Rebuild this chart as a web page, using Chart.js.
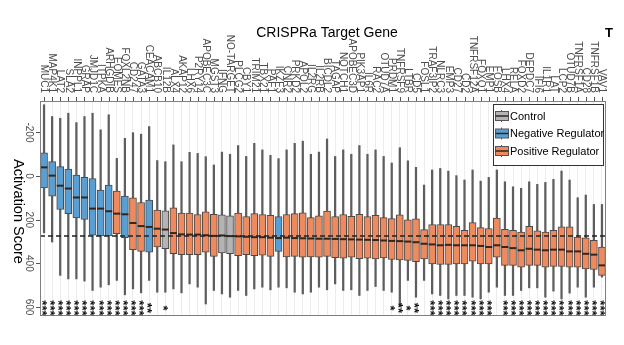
<!DOCTYPE html>
<html>
<head>
<meta charset="utf-8">
<script src="https://cdn.jsdelivr.net/npm/chart.js"></script>
<style>
  html, body { margin: 0; padding: 0; background: #fff; }
  #wrap { width: 624px; height: 345px; position: relative; }
</style>
</head>
<body>
<div id="wrap"><canvas id="chart"></canvas></div>
<script>
// CRISPRa target genes, left to right
const genes = [
  "MUC1", "MAP4K1", "LAT2", "SLA2", "INPPL1", "GRAP", "JMJD1C", "ITPKA", "ARHGDIB", "EOMES",
  "FOXL2NB", "CD247", "GATA3", "CEACAM1", "ABCB10", "IL12B", "ALX4", "AKAP12", "LHX6", "P2RY14",
  "APOBEC3C", "MGST3", "IFNG", "NO-TARGET", "PLCG2", "CBY1", "TRIM21", "TBX21", "PAF1", "IKZF3",
  "CNR2", "PRKD2", "APOL2", "IL2RG", "IL2RB", "BICDL2", "TAGAP", "NOTCH1", "APOBEC3D", "PIK3AP1",
  "IL6R", "RAC2", "OTUD7A", "PRDM1", "TNFRSF9", "LTBR", "CD5", "FOSL1", "TRAF3IP2", "NLRC3",
  "EMP3", "CD27", "CD2", "TNFRSF12A", "FOXQ1", "EMP1", "FOSB", "LHX4", "RELA", "FOXD2",
  "DEPDC7", "IFI6", "IL1R1", "LAT", "LCP2", "OTUD7B", "TNFRSF1A", "CD28", "TNFRSF1B", "VAV1"
];

// C = control, N = negative regulator, P = positive regulator
const groups = [
  "N", "N", "N", "N", "N", "N", "N", "N", "N", "P",
  "N", "P", "P", "N", "P", "C", "P", "P", "P", "P",
  "P", "P", "C", "C", "P", "P", "P", "P", "P", "N",
  "P", "P", "P", "P", "P", "P", "P", "P", "P", "P",
  "P", "P", "P", "P", "P", "P", "P", "P", "P", "P",
  "P", "P", "P", "P", "P", "P", "P", "P", "P", "P",
  "P", "P", "P", "P", "P", "P", "P", "P", "P", "P"
];

// box plot statistics (activation score)
const whiskerLow = [
  -327, -273, -265, -288, -245, -273, -288, -212, -281, -81,
  -173, -199, -192, -227, -71, -66, -143, -66, -109, -104,
  -89, -51, -110, -100, -140, -90, -150, -120, -95, -80,
  -120, -150, -160, -100, -110, -170, -90, -120, -100, -140,
  -100, -120, -90, -60, -130, -70, -40, 41, -28, -35,
  -23, -2, 18, -28, 23, 6, -28, 26, 49, 56,
  26, 38, 29, 15, -23, 18, 99, 87, 130, 130
];
const q1 = [
  -107, -66, -43, -32, -5, 6, 11, 64, 41, 69,
  92, 100, 121, 110, 156, 159, 146, 169, 169, 176,
  164, 175, 178, 182, 170, 185, 172, 176, 180, 186,
  176, 172, 168, 190, 182, 160, 186, 176, 184, 175,
  186, 180, 190, 195, 178, 200, 196, 245, 222, 222,
  222, 230, 248, 213, 236, 240, 192, 244, 248, 256,
  230, 251, 256, 248, 233, 233, 279, 283, 294, 325
];
const median = [
  -40, -2, 44, 57, 98, 98, 149, 149, 161, 172,
  175, 215, 229, 233, 241, 245, 261, 267, 268, 268,
  271, 274, 272, 275, 276, 278, 280, 280, 282, 284,
  282, 284, 285, 286, 287, 287, 288, 289, 290, 291,
  292, 293, 295, 297, 298, 300, 303, 310, 313, 317,
  315, 317, 317, 317, 320, 325, 317, 325, 330, 340,
  333, 337, 340, 337, 337, 345, 345, 356, 360, 409
];
const q3 = [
  54, 92, 153, 172, 192, 199, 271, 274, 274, 264,
  282, 337, 345, 348, 325, 333, 356, 360, 360, 360,
  348, 368, 352, 355, 365, 360, 365, 362, 368, 345,
  370, 368, 372, 370, 372, 368, 374, 376, 372, 378,
  376, 380, 375, 382, 384, 386, 392, 379, 402, 405,
  405, 402, 402, 390, 402, 402, 371, 409, 409, 417,
  409, 409, 417, 414, 414, 417, 417, 425, 428, 455
];
const whiskerHigh = [
  260, 302, 455, 471, 471, 481, 524, 509, 498, 478,
  544, 517, 535, 478, 532, 532, 517, 535, 494, 509,
  586, 524, 540, 555, 524, 547, 517, 509, 521, 509,
  512, 532, 540, 532, 509, 521, 494, 524, 521, 547,
  524, 506, 524, 532, 594, 478, 555, 478, 540, 547,
  563, 547, 547, 555, 563, 532, 509, 547, 547, 524,
  512, 512, 555, 527, 563, 536, 509, 555, 509, 463
];

// significance stars under each box
const signif = [
  "***", "***", "***", "***", "***", "***", "***", "***", "***", "***",
  "***", "***", "***", "**", "", "*", "", "", "", "",
  "", "", "", "", "", "", "", "", "", "",
  "", "", "", "", "", "", "", "", "", "",
  "", "", "", "*", "**", "*", "**", "", "***", "***",
  "***", "***", "***", "***", "***", "***", "", "***", "***", "***",
  "***", "***", "***", "***", "***", "***", "***", "***", "***", "***"
];

const yTicks = [-200, 0, 200, 400, 600];
const controlMedian = 275;
const starLevel = 604;

const groupColors = { C: "#b4b4b4", N: "#5a9fd4", P: "#ef8a5e" };
const groupNames = { C: "Control", N: "Negative Regulator", P: "Positive Regulator" };
const legendOrder = ["C", "N", "P"];

const FONT = '"Liberation Sans", Arial, sans-serif';

// text, medians, dashed reference line and legend
const annotations = {
  id: "annotations",
  afterDatasetsDraw(chart) {
    const { ctx, chartArea: { left, top, right, bottom } } = chart;
    const xs = chart.scales.x;
    const ys = chart.scales.y;
    ctx.save();

    // medians
    ctx.strokeStyle = "#33261f";
    ctx.lineWidth = 2;
    median.forEach((m, i) => {
      const x = xs.getPixelForValue(i);
      const y = ys.getPixelForValue(m);
      ctx.beginPath();
      ctx.moveTo(x - 3.5, y);
      ctx.lineTo(x + 3.5, y);
      ctx.stroke();
    });

    // control median dashed line
    const yc = ys.getPixelForValue(controlMedian);
    ctx.setLineDash([5, 3]);
    ctx.strokeStyle = "#222";
    ctx.lineWidth = 1.5;
    ctx.beginPath();
    ctx.moveTo(left, yc);
    ctx.lineTo(right, yc);
    ctx.stroke();
    ctx.setLineDash([]);

    // panel border
    ctx.strokeStyle = "#7f7f7f";
    ctx.lineWidth = 1;
    ctx.strokeRect(left + 0.5, top + 0.5, right - left - 1, bottom - top - 1);

    // tick marks
    ctx.strokeStyle = "#555";
    genes.forEach((g, i) => {
      const x = Math.round(xs.getPixelForValue(i)) + 0.5;
      ctx.beginPath();
      ctx.moveTo(x, top - 4);
      ctx.lineTo(x, top);
      ctx.stroke();
    });
    yTicks.forEach(v => {
      const y = Math.round(ys.getPixelForValue(v)) + 0.5;
      ctx.beginPath();
      ctx.moveTo(left - 4, y);
      ctx.lineTo(left, y);
      ctx.stroke();
    });

    // gene labels (rotated clockwise, ending at the axis)
    ctx.fillStyle = "#4d4d4d";
    ctx.font = "10px " + FONT;
    ctx.textAlign = "right";
    ctx.textBaseline = "middle";
    genes.forEach((g, i) => {
      ctx.save();
      ctx.translate(xs.getPixelForValue(i), top - 8);
      ctx.rotate(Math.PI / 2);
      ctx.fillText(g, 0, 0);
      ctx.restore();
    });

    // y tick labels
    ctx.textAlign = "center";
    yTicks.forEach(v => {
      ctx.save();
      ctx.translate(29, ys.getPixelForValue(v));
      ctx.rotate(Math.PI / 2);
      ctx.fillText(String(v), 0, 0);
      ctx.restore();
    });

    // significance stars
    ctx.fillStyle = "#111";
    ctx.font = "bold 13px " + FONT;
    signif.forEach((s, i) => {
      if (!s) return;
      ctx.save();
      ctx.translate(xs.getPixelForValue(i) - 2.5, ys.getPixelForValue(starLevel));
      ctx.rotate(Math.PI / 2);
      ctx.fillText(s, 0, 0);
      ctx.restore();
    });

    // titles
    ctx.fillStyle = "#000";
    ctx.font = "14px " + FONT;
    ctx.textAlign = "center";
    ctx.textBaseline = "alphabetic";
    ctx.fillText("CRISPRa Target Gene", 327, 37);

    ctx.save();
    ctx.translate(18, (top + bottom) / 2 + 3);
    ctx.rotate(Math.PI / 2);
    ctx.font = "14.5px " + FONT;
    ctx.textBaseline = "middle";
    ctx.fillText("Activation Score", 0, 0);
    ctx.restore();

    ctx.font = "bold 13px " + FONT;
    ctx.fillText("T", 609, 37);

    // legend
    const lx = 493, ly = 104, lw = 110, lh = 61;
    ctx.fillStyle = "#fff";
    ctx.fillRect(lx, ly, lw, lh);
    ctx.strokeStyle = "#333";
    ctx.lineWidth = 1;
    ctx.strokeRect(lx + 0.5, ly + 0.5, lw, lh);
    ctx.font = "11px " + FONT;
    ctx.textAlign = "left";
    ctx.textBaseline = "middle";
    legendOrder.forEach((k, j) => {
      const cy = 116 + j * 17.5;
      ctx.strokeStyle = "#555";
      ctx.lineWidth = 1;
      ctx.beginPath();
      ctx.moveTo(501.5, cy - 6);
      ctx.lineTo(501.5, cy + 6);
      ctx.stroke();
      ctx.fillStyle = groupColors[k];
      ctx.fillRect(495.5, cy - 4.5, 13, 9);
      ctx.strokeRect(495.5, cy - 4.5, 13, 9);
      ctx.strokeStyle = "#33261f";
      ctx.lineWidth = 1.5;
      ctx.beginPath();
      ctx.moveTo(495.5, cy);
      ctx.lineTo(508.5, cy);
      ctx.stroke();
      ctx.fillStyle = "#000";
      ctx.fillText(groupNames[k], 510, cy + 0.5);
    });

    ctx.restore();
  }
};

const labels = genes.map((g, i) => i);

new Chart(document.getElementById("chart"), {
  type: "bar",
  data: {
    labels: labels,
    datasets: [
      {
        label: "box",
        data: q1.map((v, i) => [v, q3[i]]),
        backgroundColor: groups.map(g => groupColors[g]),
        borderColor: "#4a4a4a",
        borderWidth: 1,
        borderSkipped: false,
        barThickness: 7
      },
      {
        label: "whisker",
        data: whiskerLow.map((v, i) => [v, whiskerHigh[i]]),
        backgroundColor: "#5e5e5e",
        borderWidth: 0,
        barThickness: 1.6
      }
    ]
  },
  options: {
    responsive: true,
    maintainAspectRatio: false,
    animation: false,
    grouped: false,
    layout: { padding: { left: 40, top: 101, right: 18, bottom: 29 } },
    plugins: { legend: { display: false }, tooltip: { enabled: false } },
    scales: {
      x: {
        type: "category",
        position: "top",
        offset: true,
        ticks: { display: false },
        grid: { offset: false, color: "#ececec", lineWidth: 1, drawTicks: false },
        border: { display: false }
      },
      y: {
        type: "linear",
        reverse: true,
        min: -344,
        max: 641,
        ticks: { display: false },
        grid: { display: false, drawTicks: false },
        border: { display: false }
      }
    }
  },
  plugins: [annotations]
});
</script>
</body>
</html>
